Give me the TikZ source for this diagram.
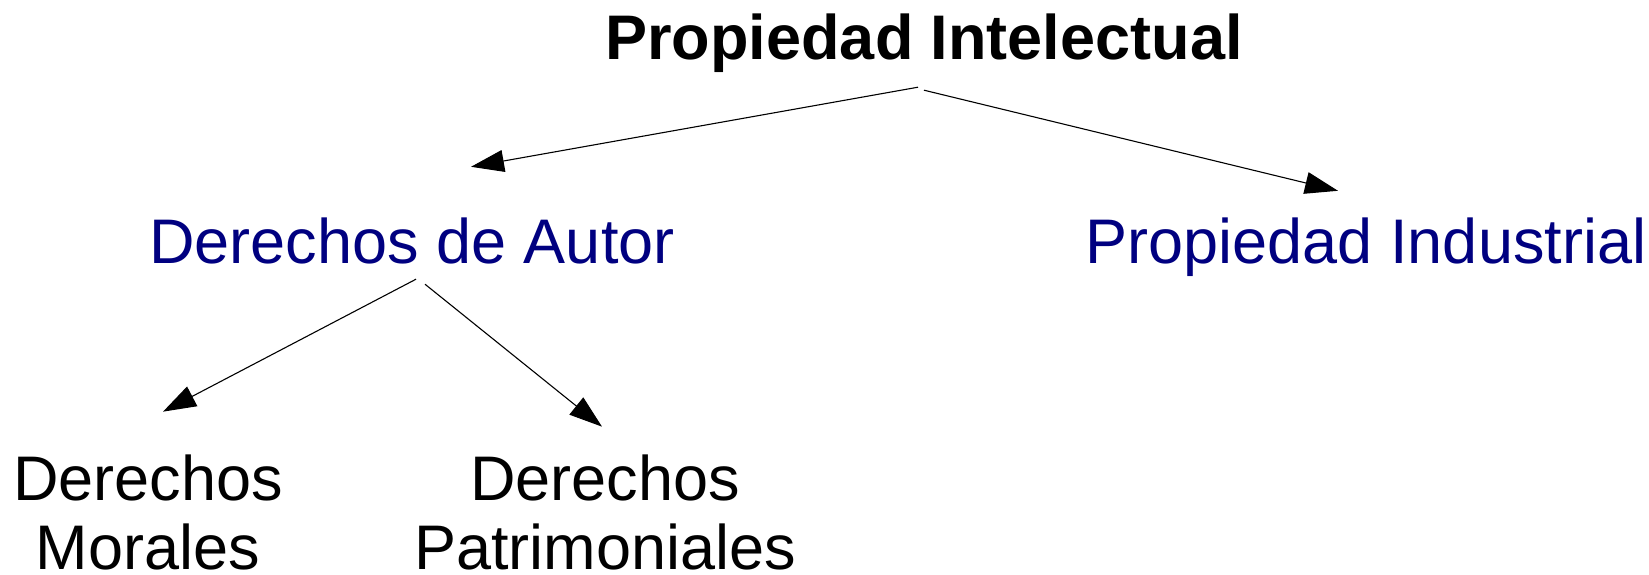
\documentclass[tikz,border=0pt]{standalone}
\usepackage{fontspec}
\setmainfont{Liberation Sans}
\usetikzlibrary{arrows.meta}
\definecolor{navyblue}{RGB}{0,0,128}
\tikzstyle{root}=[font=\bfseries\fontsize{63pt}{69pt}\selectfont, inner sep=0pt,
    text height=47pt, text depth=14pt]
\tikzstyle{branch} = [root, font=\fontsize{63pt}{69pt}\selectfont, text=navyblue]
\tikzstyle{leaf} = [font=\fontsize{63pt}{69pt}\selectfont, inner sep=0pt, align=center]
\tikzstyle{link} = [-{Triangle[length=33pt,width=22pt]}, line width=1.1pt]

\begin{document}
\begin{tikzpicture}[x=1pt,y=1pt]
	\useasboundingbox (0,0) rectangle (1649,-575);
	% Define the nodes in the picture
	\node (prop_int) [root] at (924,-43.5) {Propiedad Intelectual};
	\node (der_aut) [branch,below of=prop_int,node distance=203pt,xshift=-512pt] {Derechos de Autor};
	\node (prop_ind) [branch,below of=prop_int,node distance=203pt,xshift=442pt] {Propiedad Industrial};
	\node (der_mor) [leaf,below of=der_aut,node distance=266pt,xshift=-264pt] {Derechos\\Morales};
	\node (der_pat) [leaf,below of=der_aut,node distance=266pt,xshift=193pt] {Derechos\\Patrimoniales};
	\coordinate (pi_l) at ([xshift=-6pt,yshift=-13pt]prop_int.south);
	\coordinate (pi_r) at ([yshift=-16pt]prop_int.south);
	\coordinate (da_in) at ([xshift=59pt,yshift=49pt]der_aut.north);
	\coordinate (pd_in) at ([xshift=-28pt,yshift=25pt]prop_ind.north);
	\coordinate (da_l) at ([xshift=4pt,yshift=-2pt]der_aut.south);
	\coordinate (da_r) at ([xshift=13pt,yshift=-7pt]der_aut.south);
	\coordinate (dm_in) at ([xshift=15pt,yshift=43pt]der_mor.north);
	\coordinate (dp_in) at ([xshift=-3pt,yshift=28pt]der_pat.north);

	% Define the edges in the picture
	\draw [link] (pi_l) -- (da_in);
	\draw [link] (pi_r) -- (pd_in);
	\draw [link] (da_l) -- (dm_in);
	\draw [link] (da_r) -- (dp_in);
\end{tikzpicture}
\end{document}
